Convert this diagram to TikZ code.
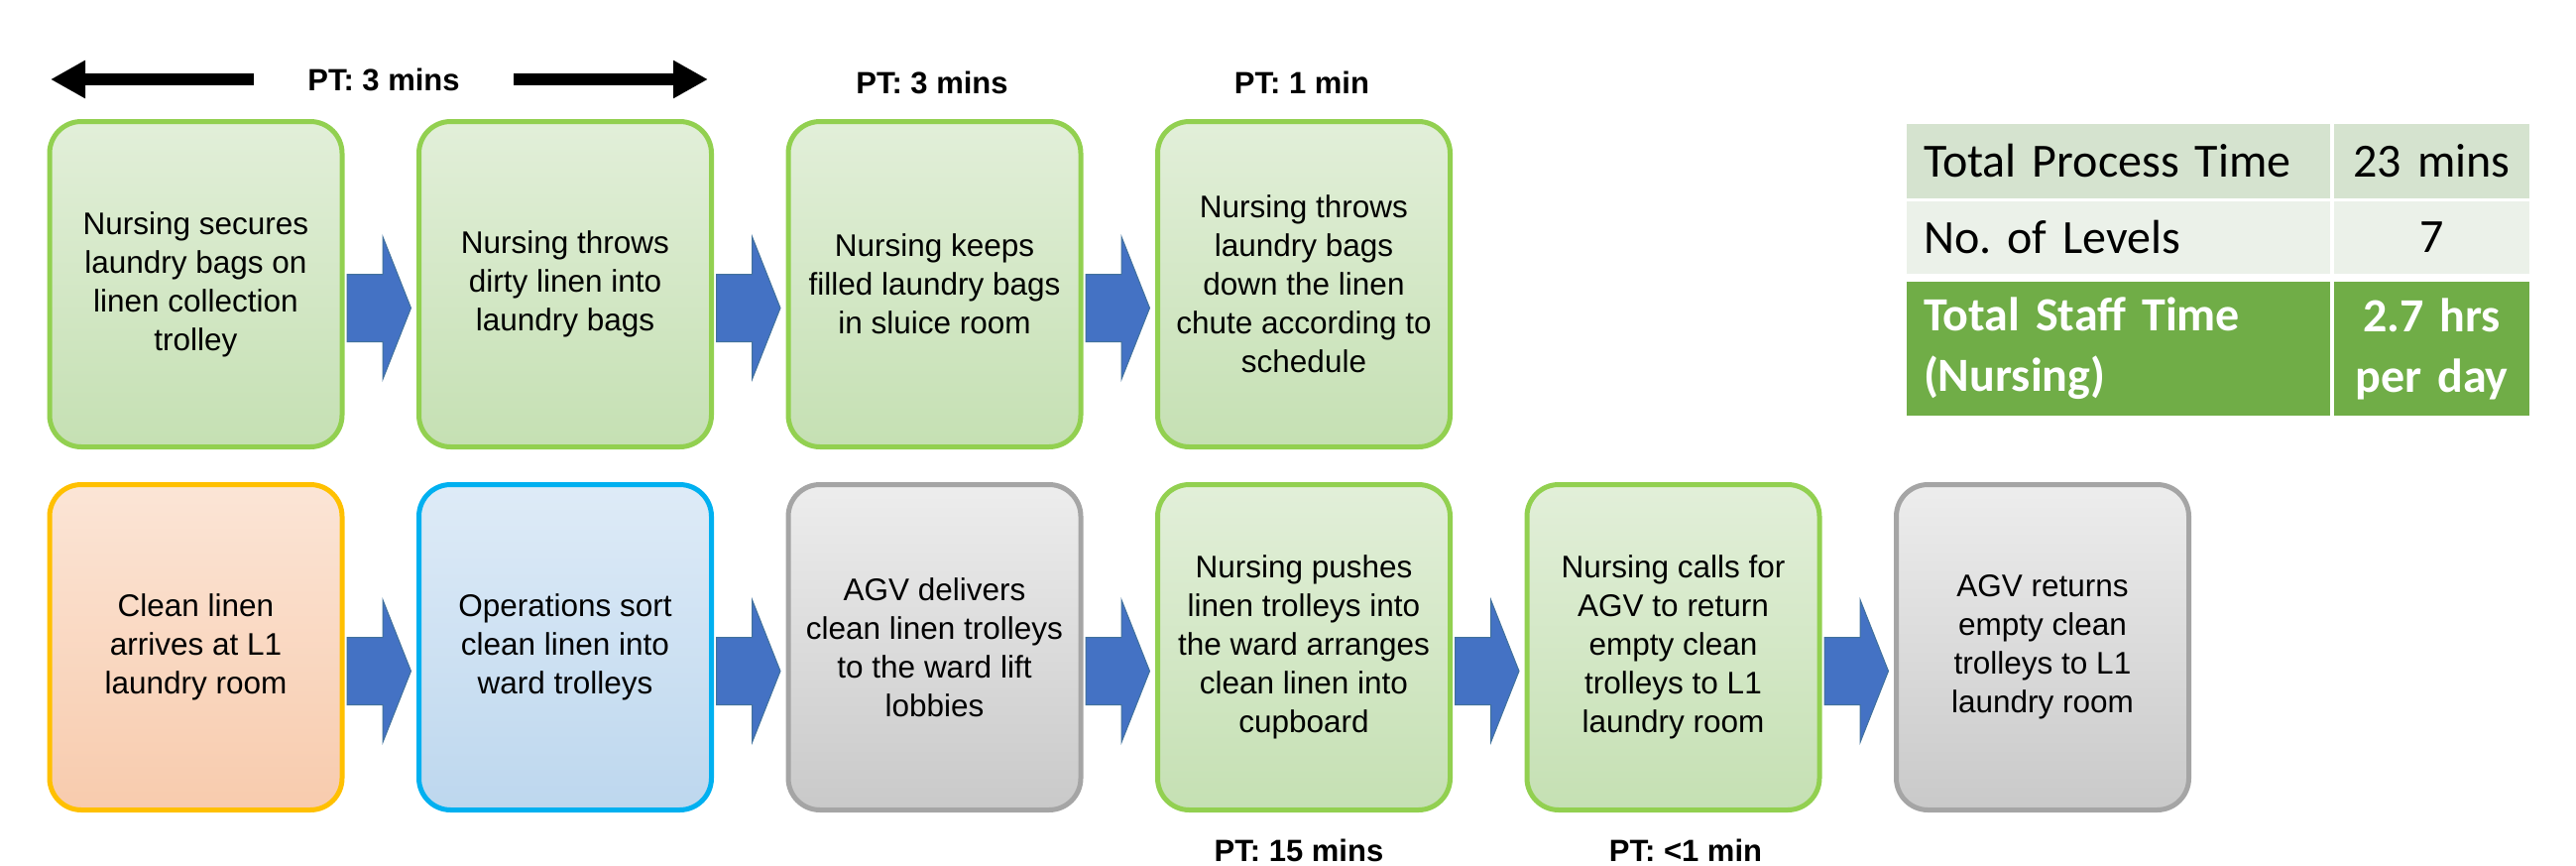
\documentclass[tikz,border=0pt]{standalone}
\usepackage{fontspec}
\setmainfont{Liberation Sans}
\newfontfamily\tablefont{Carlito}
\usepackage{tikz}
\usetikzlibrary{arrows.meta,calc}
\tikzset{every picture/.style={line width=0.75pt}}

\definecolor{nurseTop}{HTML}{E2EFD9}
\definecolor{nurseBot}{HTML}{C5E0B3}
\definecolor{nurseLine}{HTML}{92D050}
\definecolor{cleanTop}{HTML}{FBE5D6}
\definecolor{cleanBot}{HTML}{F8CBAD}
\definecolor{cleanLine}{HTML}{FFC000}
\definecolor{opsTop}{HTML}{DEEBF7}
\definecolor{opsBot}{HTML}{BDD7EE}
\definecolor{opsLine}{HTML}{00B0F0}
\definecolor{agvTop}{HTML}{EDEDED}
\definecolor{agvBot}{HTML}{C9C9C9}
\definecolor{agvLine}{HTML}{A5A5A5}
\definecolor{flowBlue}{HTML}{4472C4}
\definecolor{flowLine}{HTML}{41719C}
\definecolor{rowA}{HTML}{D5E3CF}
\definecolor{rowB}{HTML}{EBF1E9}
\definecolor{rowC}{HTML}{70AD47}

\tikzset{
  stepbox/.style={rounded corners=16pt, minimum width=147.5pt, minimum height=164pt, inner sep=0pt, align=center, line width=2.5pt, font=\fontsize{15.75}{19.5}\selectfont},
  nursebox/.style={stepbox, draw=nurseLine, top color=nurseTop, bottom color=nurseBot},
  cleanbox/.style={stepbox, draw=cleanLine, top color=cleanTop, bottom color=cleanBot},
  opsbox/.style={stepbox, draw=opsLine, top color=opsTop, bottom color=opsBot},
  agvbox/.style={stepbox, draw=agvLine, top color=agvTop, bottom color=agvBot},
  flowarrow/.style={fill=flowBlue, draw=flowLine, line width=0.5pt},
  ptlabel/.style={font=\bfseries\fontsize{15.5}{18}\selectfont, inner sep=1pt},
  span/.style={line width=6pt, -{Triangle[length=17.5pt,width=18pt]}},
  cell/.style={inner xsep=8.5pt, inner ysep=0pt, text width=196.5pt, align=left, font=\tablefont\fontsize{24}{30.5}\selectfont},
  valcell/.style={cell, inner xsep=2pt, text width=94.5pt, align=center},
  boldcell/.style={fill=rowC, text=white, minimum height=67.5pt, font=\tablefont\bfseries\fontsize{24}{30.5}\selectfont},
}

% block arrow between two steps
\newcommand{\flowarrow}[2]{%
  \draw[flowarrow] ($(#1.east)+(2.5,-10)$) -- ($(#1.east)+(38.5,-10)$) -- ($(#1.east)+(38.5,-48)$) -- ($(#2.west)+(-5.5,24)$) -- ($(#1.east)+(38.5,96)$) -- ($(#1.east)+(38.5,58)$) -- ($(#1.east)+(2.5,58)$) -- cycle ;}

\begin{document}
\begin{tikzpicture}[x=0.5pt,y=0.5pt,yscale=-1,xscale=1]
\useasboundingbox (0,0) rectangle (2598,873);

%Shape: Steps, top row
\node[nursebox] (b1) at (197.5,286.5) {Nursing secures\\laundry bags on\\linen collection\\trolley};
\node[nursebox] (b2) at (570,286.5) {Nursing throws\\dirty linen into\\laundry bags};
\node[nursebox] (b3) at (942.5,286.5) {Nursing keeps\\filled laundry bags\\in sluice room};
\node[nursebox] (b4) at (1315,286.5) {Nursing throws\\laundry bags\\down the linen\\chute according to\\schedule};

%Shape: Steps, bottom row
\node[cleanbox] (c1) at (197.5,652.5) {Clean linen\\arrives at L1\\laundry room};
\node[opsbox] (c2) at (570,652.5) {Operations sort\\clean linen into\\ward trolleys};
\node[agvbox] (c3) at (942.5,652.5) {AGV delivers\\clean linen trolleys\\to the ward lift\\lobbies};
\node[nursebox] (c4) at (1315,652.5) {Nursing pushes\\linen trolleys into\\the ward arranges\\clean linen into\\cupboard};
\node[nursebox] (c5) at (1687.5,652.5) {Nursing calls for\\AGV to return\\empty clean\\trolleys to L1\\laundry room};
\node[agvbox] (c6) at (2060,652.5) {AGV returns\\empty clean\\trolleys to L1\\laundry room};

%Shape: Block arrows
\flowarrow{b1}{b2}
\flowarrow{b2}{b3}
\flowarrow{b3}{b4}
\flowarrow{c1}{c2}
\flowarrow{c2}{c3}
\flowarrow{c3}{c4}
\flowarrow{c4}{c5}
\flowarrow{c5}{c6}

% Text Node
\node[ptlabel, inner xsep=27pt] (pt1) at (387,80) {PT: 3 mins};
\coordinate (spanL) at (51,80);
\coordinate (spanR) at (714,80);
%Straight Lines
\draw[span] (pt1) -- (spanL);
\draw[span] (pt1) -- (spanR);
% Text Node
\node[ptlabel] (pt2) at (940,83) {PT: 3 mins};
% Text Node
\node[ptlabel] (pt3) at (1313,83) {PT: 1 min};
% Text Node
\node[ptlabel] (pt4) at (1310,857) {PT: 15 mins};
% Text Node
\node[ptlabel] (pt5) at (1700,857) {PT: <1 min};

%Shape: Summary table
\node[cell, fill=rowA, minimum height=37.5pt] (ttime) at (2136.5,162.5) {Total Process Time};
\node[valcell, fill=rowA, minimum height=37.5pt] (tmins) at (2452.5,162.5) {23 mins};
\node[cell, fill=rowB, minimum height=36.5pt] (tlevel) at (2136.5,239.5) {No.\ of Levels};
\node[valcell, fill=rowB, minimum height=36.5pt] (tseven) at (2452.5,239.5) {7};
\node[cell, boldcell] (tstaff) at (2136.5,351.5) {Total Staff Time\\(Nursing)};
\node[valcell, boldcell] (thrs) at (2452.5,351.5) {2.7 hrs\\per day};
\end{tikzpicture}
\end{document}
